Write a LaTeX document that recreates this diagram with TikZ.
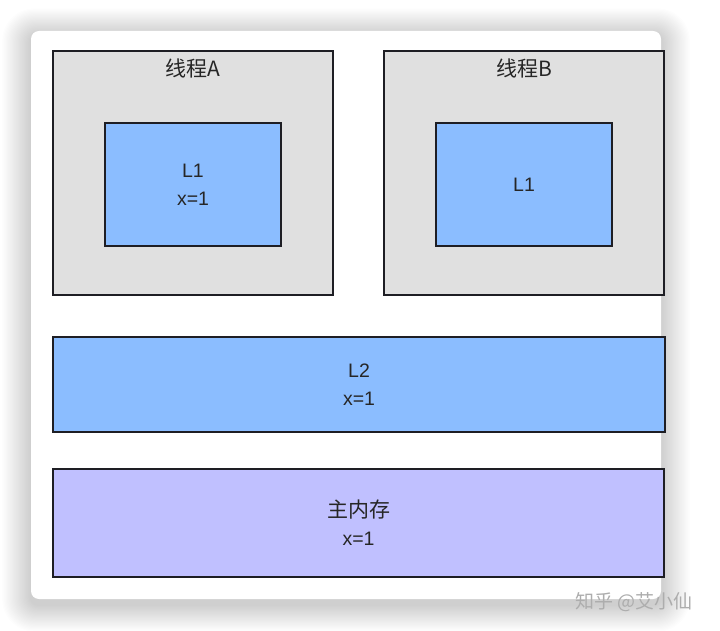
\documentclass[tikz,border=0pt]{standalone}
\usepackage{fontspec}
\setmainfont{Liberation Sans}
\newfontfamily\cjk{Noto Sans CJK SC}
\definecolor{boxgray}{HTML}{E0E0E0}
\definecolor{boxblue}{HTML}{8BBDFF}
\definecolor{boxpurple}{HTML}{C0C0FF}
\definecolor{edge}{HTML}{1E1E24}
\begin{document}
\begin{tikzpicture}[x=1pt,y=-1pt,
  box/.style={draw=edge,line width=2.7pt,inner sep=0pt,align=center,font=\fontsize{19.5}{28}\selectfont},
  lbl/.style={font=\cjk\fontsize{21}{28}\selectfont,text=black!85,inner sep=0pt}]
\useasboundingbox (0,0) rectangle (720,631);
\fill[white] (0,0) rectangle (720,631);
% soft shadow
\foreach \i in {1,...,24}{
  \fill[black,opacity=0.0065,rounded corners=8pt+\i pt] (31-\i*1.2,31-\i*1.1+4) rectangle (661+\i*1.2,599+\i*1.1+6);
}
\node[fill=white,rounded corners=8pt,minimum width=630pt,minimum height=568pt,inner sep=0pt] (card) at (346,315) {};
% thread A
\node[box,fill=boxgray,minimum width=280pt,minimum height=244pt] (ta) at (193,173) {};
\node[lbl] (tal) at (193,68) {线程A};
\node[box,fill=boxblue,minimum width=176pt,minimum height=123pt,text=black!85] (l1a) at (193,184.5) {L1\\x=1};
% thread B
\node[box,fill=boxgray,minimum width=280pt,minimum height=244pt] (tb) at (524,173) {};
\node[lbl] (tbl) at (524,68) {线程B};
\node[box,fill=boxblue,minimum width=176pt,minimum height=123pt,text=black!85] (l1b) at (524,184.5) {L1};
% L2
\node[box,fill=boxblue,minimum width=612pt,minimum height=95pt,text=black!85] (l2) at (359,384.5) {L2\\x=1};
% main memory
\node[box,fill=boxpurple,minimum width=611pt,minimum height=108pt,text=black!85] (mem) at (358.5,523) {{\cjk\fontsize{21}{28}\selectfont 主内存}\\x=1};
% watermark
\node[font=\cjk\fontsize{19}{22}\selectfont,text=black!32,inner sep=0pt] (wm) at (634,602) {知乎 @艾小仙};
\end{tikzpicture}
\end{document}
